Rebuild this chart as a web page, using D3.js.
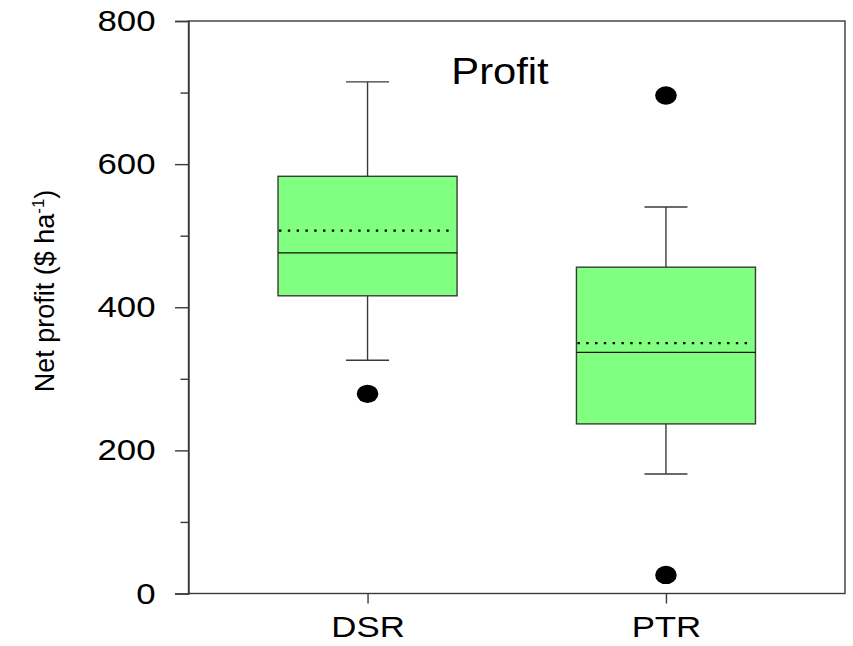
<!DOCTYPE html>
<html>
  <head>
    <meta charset="utf-8">
    <title>Profit box plot</title>
    <script src="https://d3js.org/d3.v7.min.js"></script>
    <style>
      body{
        margin: 0;
        background: #ffffff;
      }
      text{
        font-family: "Liberation Sans", Arial, sans-serif;
        fill: #000;
      }
    </style>
  </head>
  <body>
    <div id="container"></div>
    <script>

      // DATA
      const groups = ["DSR", "PTR"];
      const whiskerLow = [326, 167];
      const q1 = [416, 237];
      const median = [476, 337];
      const mean = [507, 350];
      const q3 = [583, 456];
      const whiskerHigh = [715, 540];
      const outliers = [[279], [26, 696]];
      const yTicks = [0, 200, 400, 600, 800];
      const yMinorTicks = [100, 300, 500, 700];

      // SIZE
      const margin = { top: 21, right: 8, bottom: 52.5, left: 188.5 },
        width = 853 - margin.left - margin.right,
        height = 646 - margin.top - margin.bottom;
      const stretch = 1.16; // glyphs in the reference are a bit wide

      const svg = d3.select("#container")
        .append("svg")
        .attr("width", 853)
        .attr("height", 646)
        .append("g")
        .attr("transform", "translate(" + margin.left + "," + margin.top + ")");

      // SCALES
      const x = d3.scaleLinear().domain([0.4, 2.6]).range([0, width]);
      const y = d3.scaleLinear().domain([0, 800]).range([height, 0]);
      const boxW = x(0.6) - x(0);
      const capW = 43;

      // FRAME
      svg.append("rect")
        .attr("x", 0).attr("y", 0)
        .attr("width", width).attr("height", height)
        .attr("fill", "none")
        .attr("stroke", "#3a3a3a")
        .attr("stroke-width", 1.4);

      // Y AXIS
      const yAxis = svg.append("g")
        .call(d3.axisLeft(y).tickValues(yTicks).tickSize(13.5).tickFormat(d3.format("d")));
      yAxis.select(".domain").attr("stroke", "#3a3a3a").attr("stroke-width", 1.4);
      yAxis.selectAll(".tick line").attr("stroke", "#3a3a3a").attr("stroke-width", 1.4);
      yAxis.selectAll(".tick text")
        .attr("x", null)
        .attr("transform", "translate(-33,0) scale(" + stretch + ",1)")
        .attr("font-size", 30)
        .attr("font-family", "Liberation Sans, Arial, sans-serif")
        .attr("fill", "#000");

      const yMinor = svg.append("g")
        .call(d3.axisLeft(y).tickValues(yMinorTicks).tickSize(8).tickFormat(""));
      yMinor.select(".domain").remove();
      yMinor.selectAll(".tick line").attr("stroke", "#3a3a3a").attr("stroke-width", 1.4);

      // X AXIS
      const xAxis = svg.append("g")
        .attr("transform", "translate(0," + height + ")")
        .call(d3.axisBottom(x).tickValues([1, 2]).tickSize(10).tickFormat((d, i) => groups[i]));
      xAxis.select(".domain").remove();
      xAxis.selectAll(".tick line").attr("stroke", "#3a3a3a").attr("stroke-width", 1.4);
      xAxis.selectAll(".tick text")
        .attr("y", null).attr("dy", null)
        .attr("transform", "translate(0,43.5) scale(" + stretch + ",1)")
        .attr("font-size", 30)
        .attr("font-family", "Liberation Sans, Arial, sans-serif")
        .attr("fill", "#000");

      // BOXES
      const data = groups.map((g, i) => ({
        g: g, pos: i + 1,
        lo: whiskerLow[i], q1: q1[i], med: median[i], mean: mean[i], q3: q3[i], hi: whiskerHigh[i],
        out: outliers[i]
      }));

      const box = svg.selectAll(".box")
        .data(data)
        .enter()
        .append("g")
        .attr("class", "box");

      // whiskers
      box.append("line")
        .attr("x1", d => x(d.pos)).attr("x2", d => x(d.pos))
        .attr("y1", d => y(d.hi)).attr("y2", d => y(d.q3))
        .attr("stroke", "#3a3a3a").attr("stroke-width", 1.4);
      box.append("line")
        .attr("x1", d => x(d.pos)).attr("x2", d => x(d.pos))
        .attr("y1", d => y(d.q1)).attr("y2", d => y(d.lo))
        .attr("stroke", "#3a3a3a").attr("stroke-width", 1.4);
      box.append("line")
        .attr("x1", d => x(d.pos) - capW / 2).attr("x2", d => x(d.pos) + capW / 2)
        .attr("y1", d => y(d.hi)).attr("y2", d => y(d.hi))
        .attr("stroke", "#3a3a3a").attr("stroke-width", 1.4);
      box.append("line")
        .attr("x1", d => x(d.pos) - capW / 2).attr("x2", d => x(d.pos) + capW / 2)
        .attr("y1", d => y(d.lo)).attr("y2", d => y(d.lo))
        .attr("stroke", "#3a3a3a").attr("stroke-width", 1.4);

      // box body
      box.append("rect")
        .attr("x", d => x(d.pos) - boxW / 2)
        .attr("y", d => y(d.q3))
        .attr("width", boxW)
        .attr("height", d => y(d.q1) - y(d.q3))
        .attr("fill", "#80ff80")
        .attr("stroke", "#3a3a3a")
        .attr("stroke-width", 1.4);

      // median
      box.append("line")
        .attr("x1", d => x(d.pos) - boxW / 2).attr("x2", d => x(d.pos) + boxW / 2)
        .attr("y1", d => y(d.med)).attr("y2", d => y(d.med))
        .attr("stroke", "#111").attr("stroke-width", 1.4);

      // mean (dotted)
      box.append("line")
        .attr("x1", d => x(d.pos) - boxW / 2 + 1).attr("x2", d => x(d.pos) + boxW / 2 - 4)
        .attr("y1", d => y(d.mean)).attr("y2", d => y(d.mean))
        .attr("stroke", "#000").attr("stroke-width", 2.2)
        .attr("stroke-dasharray", "2.4,6.4");

      // outliers
      box.selectAll(".out")
        .data(d => d.out.map(v => ({ pos: d.pos, v: v })))
        .enter()
        .append("ellipse")
        .attr("class", "out")
        .attr("cx", d => x(d.pos))
        .attr("cy", d => y(d.v))
        .attr("rx", 10.8)
        .attr("ry", 9.2)
        .attr("fill", "#000");

      // TITLE
      svg.append("text")
        .attr("text-anchor", "middle")
        .attr("transform", "translate(" + (500 - margin.left) + "," + (84 - margin.top) + ") scale(" + stretch + ",1)")
        .attr("font-size", 36)
        .text("Profit");

      // Y LABEL
      const yLabel = svg.append("text")
        .attr("text-anchor", "middle")
        .attr("transform", "translate(" + (53.5 - margin.left) + "," + (291 - margin.top) + ") rotate(-90)")
        .attr("font-size", 27);
      yLabel.append("tspan").text("Net profit ($ ha");
      yLabel.append("tspan").attr("font-size", 17).attr("dy", -10).text("-1");
      yLabel.append("tspan").attr("dy", 10).text(")");

    </script>
  </body>
</html>
